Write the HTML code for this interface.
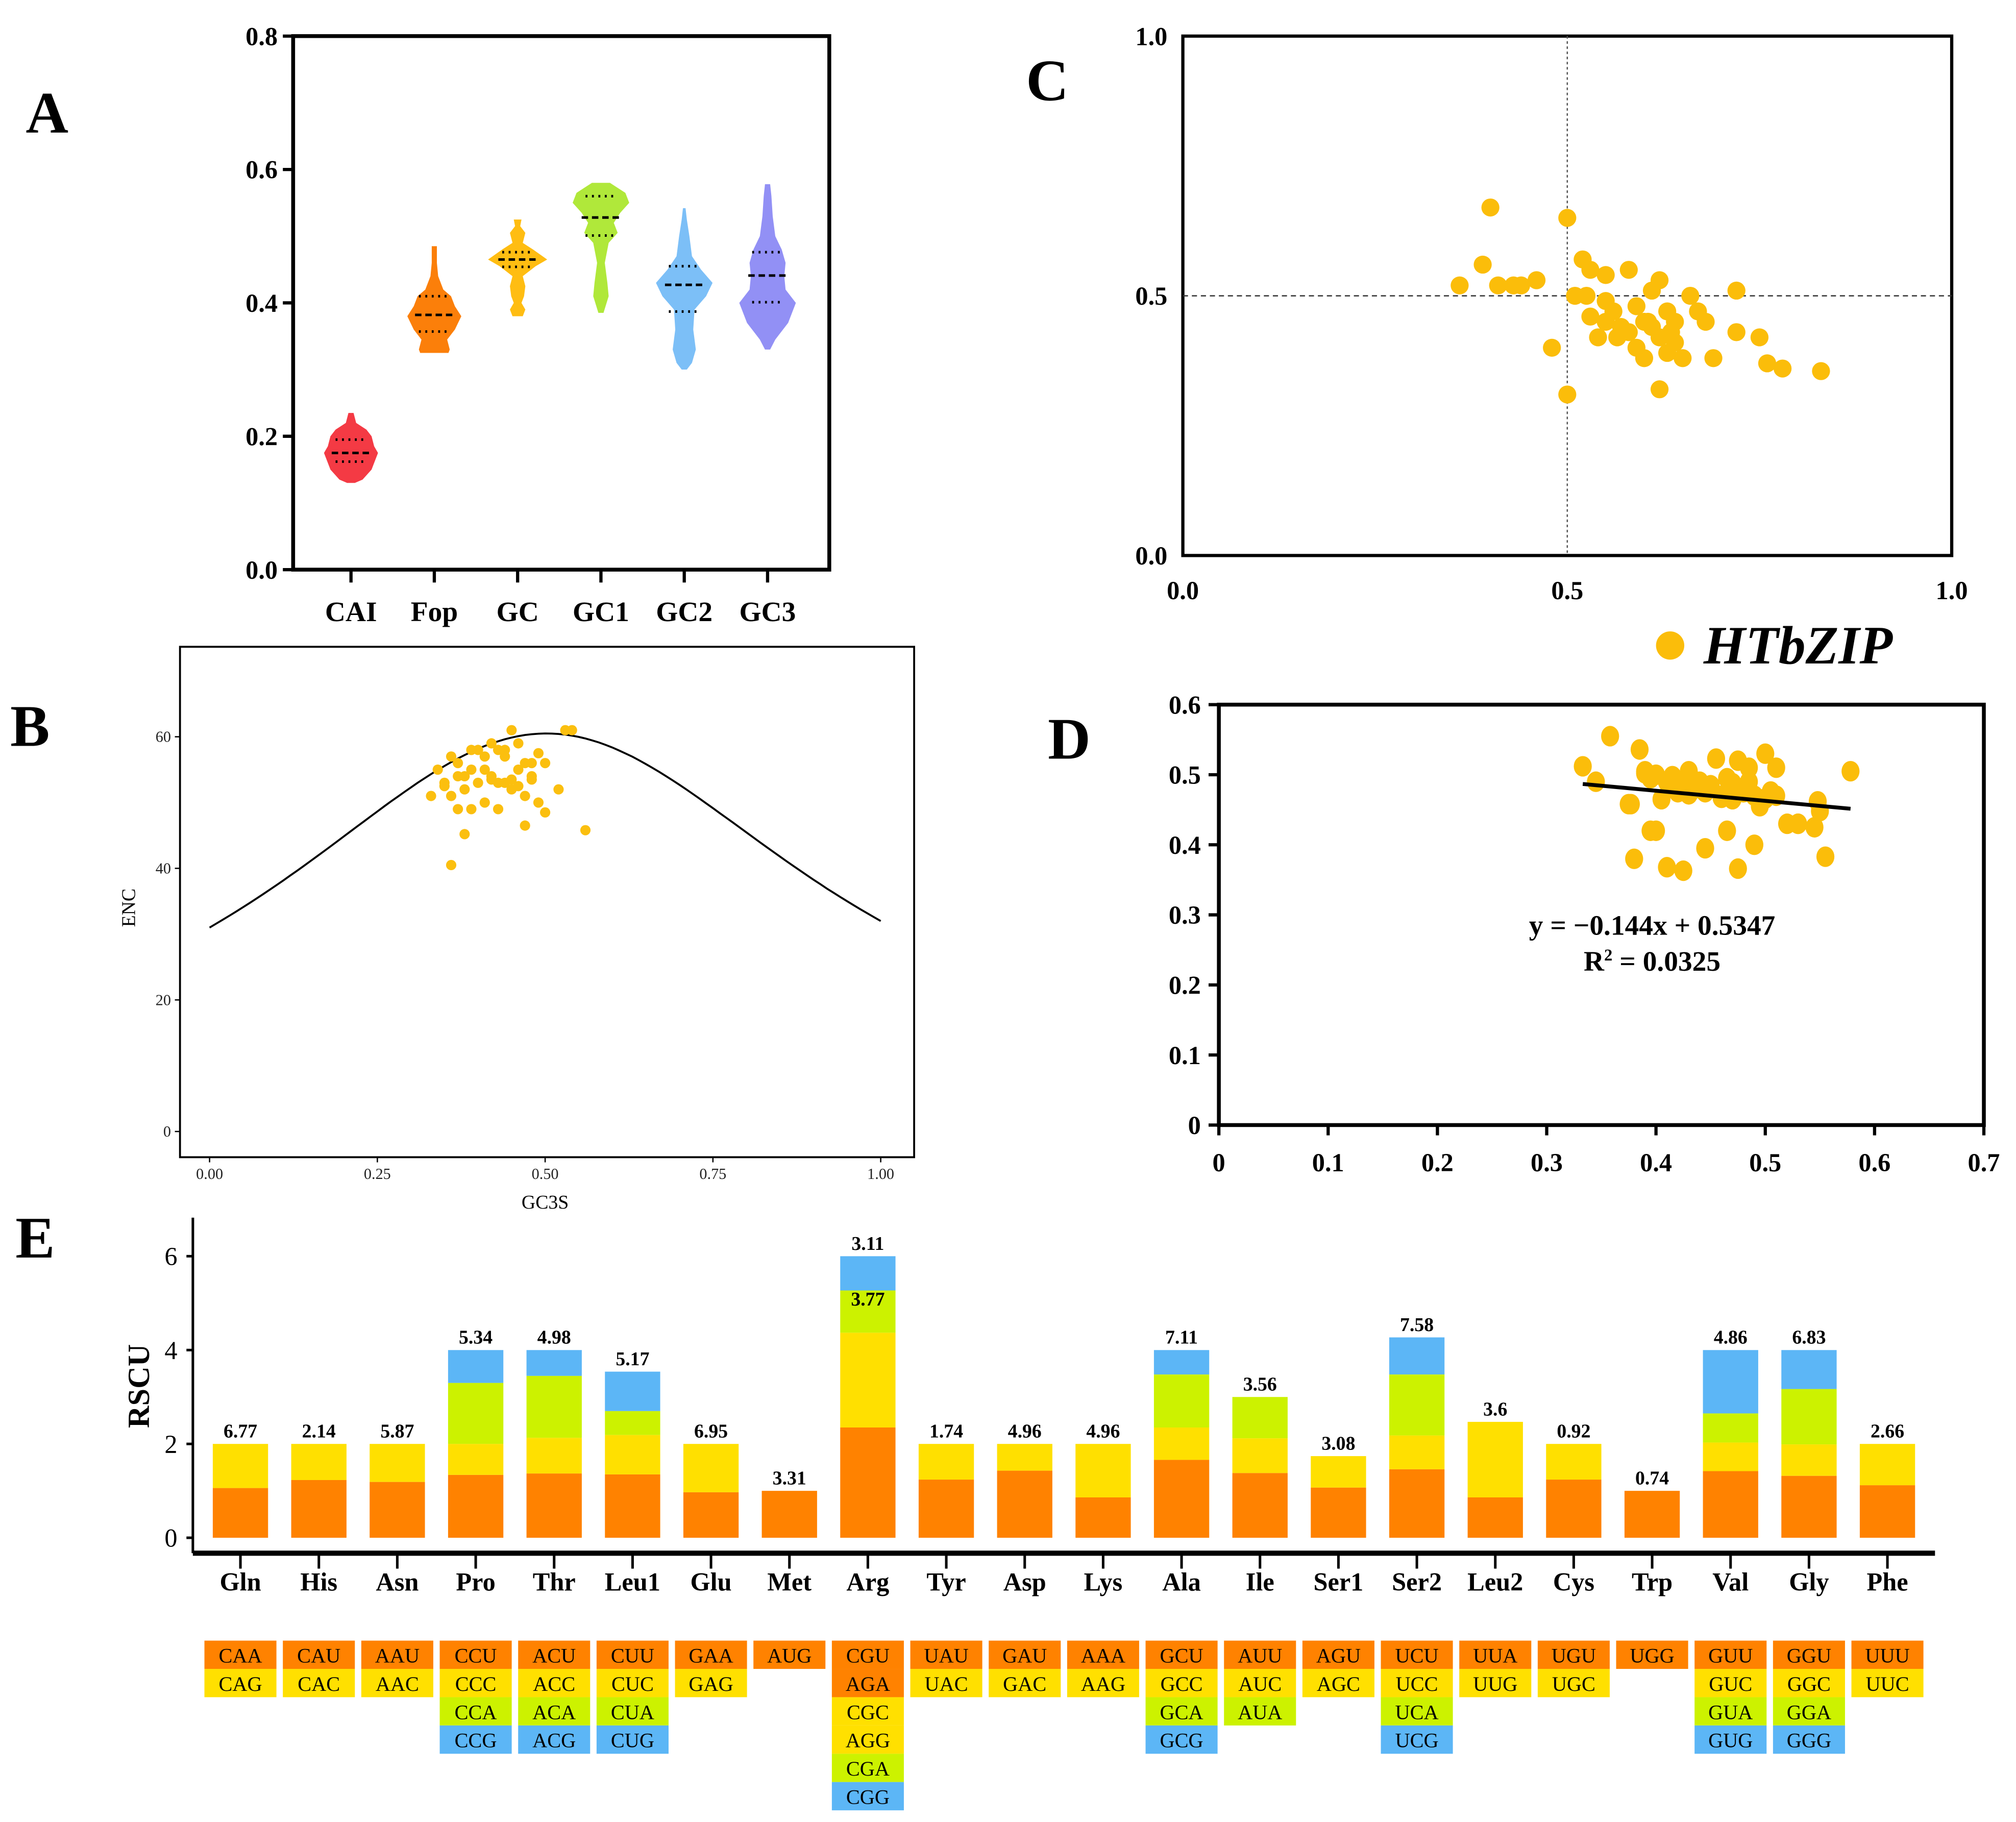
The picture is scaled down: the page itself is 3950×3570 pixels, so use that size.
<!DOCTYPE html>
<html><head><meta charset="utf-8"><style>
html,body{margin:0;padding:0;background:#fff;}
svg{display:block;font-family:"Liberation Serif",serif;}
</style></head><body>
<svg id="fig" xmlns="http://www.w3.org/2000/svg" width="3950" height="3570" viewBox="0 0 1568 1417">
<rect x="0" y="0" width="1568" height="1417" fill="#fff"/>
<text x="20" y="103" font-size="46" font-weight="bold">A</text>
<text x="798" y="78" font-size="46" font-weight="bold">C</text>
<text x="8" y="580" font-size="46" font-weight="bold">B</text>
<text x="815" y="590" font-size="46" font-weight="bold">D</text>
<text x="12" y="978" font-size="46" font-weight="bold">E</text>
<g id="pA"></g>
<g id="pB"></g>
<g id="pC"></g>
<g id="pD"></g>
<g id="pE"></g>
</svg>
<script>
// ---------- Panel A data ----------
const violinCats = ["CAI","Fop","GC","GC1","GC2","GC3"];
const violinColors = ["#f43a44","#fb7f0a","#ffbd12","#b0e83a","#7cbff7","#9290f5"];
const violinMedians = [0.175,0.382,0.465,0.528,0.427,0.441];
const violinQ1 = [0.162,0.357,0.454,0.501,0.387,0.401];
const violinQ3 = [0.195,0.41,0.476,0.56,0.455,0.476];
const violinProfiles = [
 [[0.13,3],[0.135,9],[0.15,16],[0.165,19],[0.175,21],[0.185,18],[0.2,16],[0.21,12],[0.22,4],[0.235,2]],
 [[0.325,11],[0.33,12],[0.345,10],[0.36,16],[0.38,21],[0.395,16],[0.41,13],[0.42,7],[0.44,3],[0.46,2],[0.485,2]],
 [[0.38,4],[0.39,6],[0.4,3],[0.41,5],[0.425,6],[0.44,4],[0.455,14],[0.465,23],[0.48,12],[0.49,4],[0.505,6],[0.515,2],[0.525,3]],
 [[0.385,2],[0.41,6],[0.43,5],[0.46,3],[0.49,6],[0.505,13],[0.52,10],[0.535,15],[0.55,22],[0.565,19],[0.58,7]],
 [[0.3,2],[0.31,6],[0.33,9],[0.36,7],[0.39,8],[0.41,17],[0.43,22],[0.45,13],[0.47,6],[0.5,4],[0.525,2],[0.542,1]],
 [[0.33,2],[0.345,6],[0.37,16],[0.4,22],[0.42,14],[0.44,13],[0.46,14],[0.48,11],[0.5,6],[0.53,4],[0.56,3],[0.578,2]]
];
const aTicks = [0,0.2,0.4,0.6,0.8];
// ---------- Panel B data ----------
const encGC3s = [0.34,0.36,0.37,0.38,0.35,0.39,0.4,0.41,0.42,0.43,0.44,0.45,0.46,0.47,0.48,0.36,0.38,0.4,0.42,0.44,0.46,0.48,0.37,0.39,0.41,0.43,0.45,0.47,0.49,0.5,0.52,0.53,0.54,0.56,0.5,0.47,0.38,0.36,0.45,0.43,0.41,0.39,0.37,0.35,0.44,0.42,0.49,0.33,0.48,0.46];
const encVals = [55,57,56,54,53,55,58,57,59,58,58,61,59,56,54,51,52,53,54,53,55,56,49,49,50,49,52,51,50,48.5,52,61,61,45.8,56,46.5,45.2,40.5,53.5,53,55,58,54,52.5,57,53.5,57.5,51,53.5,52.5];
const bTicksX = [0,0.25,0.5,0.75,1];
const bTicksY = [0,20,40,60];
// ---------- Panel C data ----------
const cX = [0.36,0.39,0.40,0.41,0.43,0.44,0.46,0.50,0.48,0.50,0.51,0.52,0.525,0.53,0.53,0.54,0.55,0.55,0.56,0.57,0.58,0.58,0.59,0.59,0.60,0.60,0.61,0.61,0.62,0.62,0.63,0.63,0.64,0.64,0.65,0.66,0.67,0.68,0.69,0.72,0.72,0.75,0.76,0.78,0.83,0.62,0.55,0.565,0.605,0.635];
const cY = [0.52,0.56,0.67,0.52,0.52,0.52,0.53,0.65,0.40,0.31,0.50,0.57,0.50,0.55,0.46,0.42,0.54,0.45,0.47,0.44,0.43,0.55,0.48,0.40,0.38,0.45,0.51,0.44,0.42,0.53,0.39,0.47,0.45,0.41,0.38,0.50,0.47,0.45,0.38,0.51,0.43,0.42,0.37,0.36,0.355,0.32,0.49,0.42,0.45,0.43];
const cTicks = [0,0.5,1];
// ---------- Panel D data ----------
const dX = [0.333,0.358,0.345,0.377,0.385,0.39,0.395,0.40,0.405,0.41,0.415,0.42,0.425,0.43,0.435,0.44,0.445,0.45,0.455,0.46,0.465,0.47,0.475,0.48,0.485,0.49,0.495,0.50,0.505,0.51,0.52,0.53,0.545,0.548,0.555,0.578,0.38,0.395,0.40,0.375,0.39,0.41,0.425,0.445,0.46,0.47,0.475,0.49,0.50,0.51,0.53,0.55,0.43,0.465,0.485];
const dY = [0.512,0.555,0.49,0.458,0.536,0.505,0.495,0.50,0.465,0.49,0.498,0.475,0.49,0.505,0.48,0.49,0.475,0.485,0.523,0.47,0.495,0.465,0.52,0.475,0.51,0.47,0.455,0.53,0.476,0.51,0.43,0.43,0.425,0.462,0.383,0.505,0.38,0.42,0.42,0.458,0.502,0.368,0.363,0.395,0.467,0.488,0.366,0.40,0.466,0.47,0.43,0.448,0.472,0.42,0.49];
const dSlope = -0.144, dIntercept = 0.5347;
const dTicksX = [0,0.1,0.2,0.3,0.4,0.5,0.6,0.7];
const dTicksY = [0,0.1,0.2,0.3,0.4,0.5,0.6];
// ---------- Panel E data ----------
const aminoAcids = ["Gln","His","Asn","Pro","Thr","Leu1","Glu","Met","Arg","Tyr","Asp","Lys","Ala","Ile","Ser1","Ser2","Leu2","Cys","Trp","Val","Gly","Phe"];
const rscuOrange = [1.06,1.23,1.19,1.34,1.37,1.35,0.97,1.0,2.35,1.24,1.43,0.86,1.66,1.38,1.07,1.46,0.86,1.24,1.0,1.42,1.32,1.12];
const rscuYellow = [0.94,0.77,0.81,0.66,0.76,0.84,1.03,0,2.02,0.76,0.57,1.14,0.69,0.74,0.67,0.72,1.61,0.76,0,0.61,0.67,0.88];
const rscuGreen = [0,0,0,1.3,1.32,0.51,0,0,0.9,0,0,0,1.13,0.88,0,1.3,0,0,0,0.62,1.18,0];
const rscuBlue = [0,0,0,0.7,0.55,0.84,0,0,0.73,0,0,0,0.52,0,0,0.79,0,0,0,1.35,0.83,0];
const topLabels = ["6.77","2.14","5.87","5.34","4.98","5.17","6.95","3.31","3.11","1.74","4.96","4.96","7.11","3.56","3.08","7.58","3.6","0.92","0.74","4.86","6.83","2.66"];
const eTicks = [0,2,4,6];
const codons = [
 ["CAA","CAG"],["CAU","CAC"],["AAU","AAC"],["CCU","CCC","CCA","CCG"],["ACU","ACC","ACA","ACG"],["CUU","CUC","CUA","CUG"],
 ["GAA","GAG"],["AUG"],["CGU","AGA","CGC","AGG","CGA","CGG"],["UAU","UAC"],["GAU","GAC"],["AAA","AAG"],
 ["GCU","GCC","GCA","GCG"],["AUU","AUC","AUA"],["AGU","AGC"],["UCU","UCC","UCA","UCG"],["UUA","UUG"],["UGU","UGC"],["UGG"],
 ["GUU","GUC","GUA","GUG"],["GGU","GGC","GGA","GGG"],["UUU","UUC"]
];

const NS="http://www.w3.org/2000/svg";
function mk(tag, attrs, parent){const e=document.createElementNS(NS,tag);for(const k in attrs)e.setAttribute(k,attrs[k]);parent.appendChild(e);return e;}
function txt(s, attrs, parent){const e=mk("text",attrs,parent);e.textContent=s;return e;}
let el;

// ===== Panel A =====
(function(){
 const g=document.getElementById("pA");
 const x0=228,x1=645,y0=443,y1=28;
 const ys=v=>y0-(v/0.8)*(y0-y1);
 const xs=i=>273+i*64.8;
 el=mk("rect",{x:x0,y:y1,width:x1-x0,height:y0-y1,fill:"none",stroke:"#000","stroke-width":3},g);
 
 
 aTicks.forEach(t=>{
  el=mk("line",{x1:x0-8,x2:x0,y1:ys(t),y2:ys(t),stroke:"#000","stroke-width":2.5},g);
  
  
  el=txt(t.toFixed(1),{x:x0-12,y:ys(t)+7,"font-size":20,"font-weight":"bold","text-anchor":"end"},g);
  
  
 });
 violinCats.forEach((c,i)=>{
  const cx=xs(i);const prof=violinProfiles[i];
  let d="M"+(cx-prof[0][1])+","+ys(prof[0][0]);
  prof.forEach(p=>{d+=" L"+(cx+p[1])+","+ys(p[0]);});
  for(let k=prof.length-1;k>=0;k--){d+=" L"+(cx-prof[k][1])+","+ys(prof[k][0]);}
  el=mk("path",{d:d+"Z",fill:violinColors[i],"stroke-linejoin":"round"},g);
  
  
  el=mk("line",{x1:cx-15,x2:cx+15,y1:ys(violinMedians[i]),y2:ys(violinMedians[i]),stroke:"#000","stroke-width":2,"stroke-dasharray":"5,3"},g);
  
  
  [violinQ1[i],violinQ3[i]].forEach(q=>{
   el=mk("line",{x1:cx-12,x2:cx+12,y1:ys(q),y2:ys(q),stroke:"#000","stroke-width":2,"stroke-dasharray":"1.5,3.5"},g);
   
   
  });
  el=mk("line",{x1:cx,x2:cx,y1:y0,y2:y0+10,stroke:"#000","stroke-width":2.5},g);
  
  
  el=txt(c,{x:cx,y:483,"font-size":22,"font-weight":"bold","text-anchor":"middle"},g);
  
  
 });
})();

// ===== Panel B =====
(function(){
 const g=document.getElementById("pB");
 const bx0=140,bx1=711,by0=900,by1=503;
 const xs=v=>163+v*522;
 const ys=v=>880-v*5.117;
 el=mk("rect",{x:bx0,y:by1,width:bx1-bx0,height:by0-by1,fill:"none",stroke:"#000","stroke-width":1.5},g);
 
 
 bTicksX.forEach(t=>{
  el=mk("line",{x1:xs(t),x2:xs(t),y1:by0,y2:by0+4,stroke:"#000","stroke-width":1},g);
  
  
  el=txt(t.toFixed(2),{x:xs(t),y:by0+17,"font-size":12,"text-anchor":"middle",fill:"#222"},g);
  
  
 });
 bTicksY.forEach(t=>{
  el=mk("line",{x1:bx0-4,x2:bx0,y1:ys(t),y2:ys(t),stroke:"#000","stroke-width":1},g);
  
  
  el=txt(String(t),{x:bx0-7,y:ys(t)+4,"font-size":12,"text-anchor":"end",fill:"#222"},g);
  
  
 });
 el=txt("GC3S",{x:424,y:940,"font-size":15,"text-anchor":"middle"},g);
 
 
 el=txt("ENC",{x:105,y:706,"font-size":15,"text-anchor":"middle",transform:"rotate(-90 105 706)"},g);
 
 
 let d="";
 for(let i=0;i<=100;i++){const s=i/100;const e=2+s+29/(s*s+(1-s)*(1-s));d+=(i?" L":"M")+xs(s).toFixed(1)+","+ys(e).toFixed(1);}
 el=mk("path",{d:d,fill:"none",stroke:"#000","stroke-width":1.5},g);
 
 
 encGC3s.forEach((v,i)=>{
  el=mk("circle",{cx:xs(v),cy:ys(encVals[i]),r:4,fill:"#fbbf0f"},g);
  
  
 });
})();

// ===== Panel C =====
(function(){
 const g=document.getElementById("pC");
 const x0=920,x1=1518,y0=432,y1=28;
 const xs=v=>x0+v*(x1-x0);const ys=v=>y0-v*(y0-y1);
 el=mk("rect",{x:x0,y:y1,width:x1-x0,height:y0-y1,fill:"none",stroke:"#000","stroke-width":2.5},g);
 
 
 el=mk("line",{x1:xs(0.5),x2:xs(0.5),y1:y1,y2:y0,stroke:"#555","stroke-width":1,"stroke-dasharray":"2,2"},g);
 
 
 el=mk("line",{x1:x0,x2:x1,y1:ys(0.5),y2:ys(0.5),stroke:"#333","stroke-width":1,"stroke-dasharray":"4,3"},g);
 
 
 cTicks.forEach(t=>{
  el=txt(t.toFixed(1),{x:xs(t),y:y0+34,"font-size":20,"font-weight":"bold","text-anchor":"middle"},g);
  
  
  el=txt(t.toFixed(1),{x:x0-12,y:ys(t)+7,"font-size":20,"font-weight":"bold","text-anchor":"end"},g);
  
  
 });
 cX.forEach((v,i)=>{
  el=mk("circle",{cx:xs(v),cy:ys(cY[i]),r:7,fill:"#fbbd0a"},g);
  
  
 });
 el=mk("circle",{cx:1299,cy:502,r:11,fill:"#fbbd0a"},g);
 
 
 el=txt("HTbZIP",{x:1325,y:516,"font-size":42,"font-weight":"bold","font-style":"italic"},g);
 
 
})();

// ===== Panel D =====
(function(){
 const g=document.getElementById("pD");
 const x0=948,x1=1543,y0=875,y1=548;
 const xs=v=>x0+v/0.7*(x1-x0);const ys=v=>y0-v/0.6*(y0-y1);
 el=mk("rect",{x:x0,y:y1,width:x1-x0,height:y0-y1,fill:"none",stroke:"#000","stroke-width":3},g);
 
 
 dTicksX.forEach(t=>{
  el=mk("line",{x1:xs(t),x2:xs(t),y1:y0,y2:y0+8,stroke:"#000","stroke-width":2.5},g);
  
  
  el=txt(t===0?"0":t.toFixed(1),{x:xs(t),y:y0+36,"font-size":20,"font-weight":"bold","text-anchor":"middle"},g);
  
  
 });
 dTicksY.forEach(t=>{
  el=mk("line",{x1:x0-8,x2:x0,y1:ys(t),y2:ys(t),stroke:"#000","stroke-width":2.5},g);
  
  
  el=txt(t===0?"0":t.toFixed(1),{x:x0-14,y:ys(t)+7,"font-size":20,"font-weight":"bold","text-anchor":"end"},g);
  
  
 });
 dX.forEach((v,i)=>{
  el=mk("ellipse",{cx:xs(v),cy:ys(dY[i]),rx:7,ry:8,fill:"#fbbd0a"},g);
  
  
 });
 const xa=Math.min(...dX),xb=Math.max(...dX);
 el=mk("line",{x1:xs(xa),y1:ys(dSlope*xa+dIntercept),x2:xs(xb),y2:ys(dSlope*xb+dIntercept),stroke:"#000","stroke-width":3},g);
 
 
 el=txt("y = \u22120.144x + 0.5347",{x:1285,y:727,"font-size":22,"font-weight":"bold","text-anchor":"middle"},g);
 
 
 el=mk("text",{x:1285,y:755,"font-size":22,"font-weight":"bold","text-anchor":"middle"},g);
 el.innerHTML='R<tspan dy="-8" font-size="13">2</tspan><tspan dy="8"> = 0.0325</tspan>';
 
 
})();

// ===== Panel E =====
(function(){
 const g=document.getElementById("pE");
 const ax=150,ay=1208;
 const ys=v=>1196-v*36.5;
 const xs=i=>187+i*61.0;
 const cols=["#ff8200","#ffe000","#ccf200","#5cb6f6"];
 el=mk("line",{x1:ax,x2:ax,y1:947,y2:ay,stroke:"#000","stroke-width":2},g);
 
 
 el=mk("line",{x1:ax,x2:1505,y1:ay,y2:ay,stroke:"#000","stroke-width":4},g);
 
 
 eTicks.forEach(t=>{
  el=mk("line",{x1:ax-5,x2:ax,y1:ys(t),y2:ys(t),stroke:"#000","stroke-width":2},g);
  
  
  el=txt(String(t),{x:ax-12,y:ys(t)+7,"font-size":20,"text-anchor":"end"},g);
  
  
 });
 el=txt("RSCU",{x:116,y:1078,"font-size":24,"font-weight":"bold","text-anchor":"middle",transform:"rotate(-90 116 1078)"},g);
 
 
 const series=[rscuOrange,rscuYellow,rscuGreen,rscuBlue];
 aminoAcids.forEach((aa,i)=>{
  const cx=xs(i);let base=0;
  series.forEach((s,k)=>{
   if(s[i]>0){
    el=mk("rect",{x:cx-21.5,y:ys(base+s[i]),width:43,height:ys(base)-ys(base+s[i]),fill:cols[k]},g);
    
    
    base+=s[i];
   }
  });
  el=txt(topLabels[i],{x:cx,y:ys(base)-5,"font-size":15,"font-weight":"bold","text-anchor":"middle"},g);
  
  
  el=mk("line",{x1:cx,x2:cx,y1:ay,y2:ay+12,stroke:"#000","stroke-width":2},g);
  
  
  el=txt(aa,{x:cx,y:1237,"font-size":20,"font-weight":"bold","text-anchor":"middle"},g);
  
  
  const list=codons[i];const n=list.length;
  list.forEach((cd,r)=>{
   let c;
   if(n===6){c=[cols[0],cols[0],cols[1],cols[1],cols[2],cols[3]][r];}
   else{c=cols[r];}
   el=mk("rect",{x:cx-28,y:1276+r*22,width:56,height:22,fill:c},g);
   
   
   el=txt(cd,{x:cx,y:1293+r*22,"font-size":16,"text-anchor":"middle"},g);
   
   
  });
 });
 el=txt("3.77",{x:xs(8),y:ys(4.95),"font-size":15,"font-weight":"bold","text-anchor":"middle"},g);
 
 
})();
</script>
</body></html>
